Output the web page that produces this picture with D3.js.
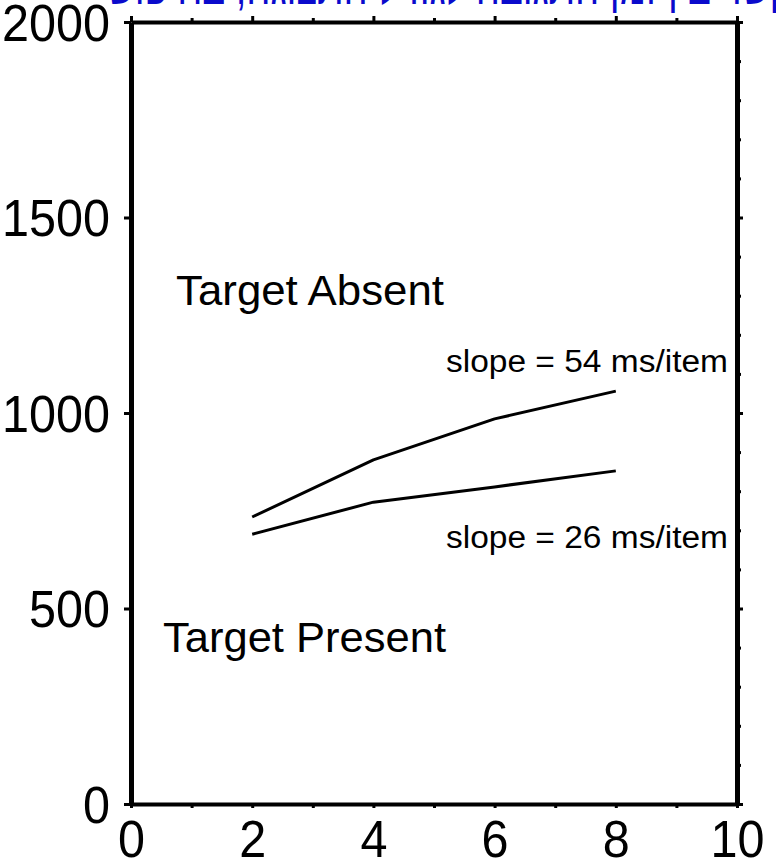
<!DOCTYPE html>
<html>
<head>
<meta charset="utf-8">
<script src="https://cdn.jsdelivr.net/npm/d3@7"></script>
<style>
  html, body { margin: 0; padding: 0; background: #fff; }
  svg { display: block; }
</style>
</head>
<body>
<script>
// ---- data ----
const setSizes = [2, 4, 6, 8];
const absentRT = [734, 880, 985, 1056];
const presentRT = [690, 772, 811, 852];
const xTickLabels = [0, 2, 4, 6, 8, 10];
const yTickLabels = [0, 500, 1000, 1500, 2000];
const seriesNames = ["Target Absent", "Target Present"];
const slopeLabels = ["slope = 54 ms/item", "slope = 26 ms/item"];
const titleText = "קשר בין זמן התגובה לגודל התצוגה, בחיפוש";

// ---- layout ----
const W = 776, H = 865;
const svg = d3.select("body").append("svg").attr("width", W).attr("height", H);
svg.append("rect").attr("width", W).attr("height", H).attr("fill", "#fff");

const x = d3.scaleLinear().domain([0, 10]).range([131, 737]);
const y = d3.scaleLinear().domain([0, 2000]).range([804, 22]);
const FONT = "'Liberation Sans', Arial, Helvetica, sans-serif";
const fmt = d3.format("d");

// title (cut off at top)
svg.append("text")
  .attr("x", 792).attr("y", 4)
  .attr("text-anchor", "end")
  .attr("font-family", FONT)
  .attr("font-size", 50)
  .attr("fill", "#0a0acc")
  .attr("textLength", 685)
  .attr("lengthAdjust", "spacingAndGlyphs")
  .text(titleText);

function styleAxis(g, domainW) {
  g.select(".domain").attr("stroke", "#000").attr("stroke-width", domainW);
  g.selectAll(".tick line").attr("stroke", "#000").attr("stroke-width", 3);
}

// left axis: majors + labels
const leftAx = svg.append("g").attr("transform", `translate(${x(0)},0)`)
  .call(d3.axisLeft(y).tickValues(yTickLabels).tickFormat(fmt).tickSize(7).tickSizeOuter(0).tickPadding(14));
styleAxis(leftAx, 5);
leftAx.selectAll(".tick text")
  .attr("font-family", FONT).attr("font-size", 52).attr("fill", "#000")
  .attr("dy", "0.35em")
  .attr("textLength", d => fmt(d).length * 27)
  .attr("lengthAdjust", "spacingAndGlyphs");

// right axis: minor every 100, major every 500
const rightMinor = d3.range(0, 2001, 100);
const rightAx = svg.append("g").attr("transform", `translate(${x(10)},0)`)
  .call(d3.axisRight(y).tickValues(rightMinor).tickSizeOuter(0).tickFormat(""));
styleAxis(rightAx, 5);
rightAx.selectAll(".tick line").attr("x2", d => d % 500 === 0 ? 6 : 4);

// top axis: every unit, majors on even
const unitTicks = d3.range(0, 11, 1);
const topAx = svg.append("g").attr("transform", `translate(0,${y(2000)})`)
  .call(d3.axisTop(x).tickValues(unitTicks).tickSizeOuter(0).tickFormat(""));
styleAxis(topAx, 4);
topAx.selectAll(".tick line").attr("y2", d => d % 2 === 0 ? -6 : -4);

// bottom axis: ticks every unit
const bottomAx = svg.append("g").attr("transform", `translate(0,${y(0)})`)
  .call(d3.axisBottom(x).tickValues(unitTicks).tickSize(4).tickSizeOuter(0).tickFormat(""));
styleAxis(bottomAx, 4);

// bottom labels
const bottomLab = svg.append("g").attr("transform", `translate(0,${y(0)})`)
  .call(d3.axisBottom(x).tickValues(xTickLabels).tickFormat(fmt).tickSize(0).tickPadding(17));
bottomLab.select(".domain").remove();
bottomLab.selectAll(".tick text")
  .attr("font-family", FONT).attr("font-size", 51).attr("fill", "#000")
  .attr("textLength", d => fmt(d).length * 27)
  .attr("lengthAdjust", "spacingAndGlyphs");

// lines
const line = d3.line().x((d, i) => x(setSizes[i])).y(d => y(d));
[absentRT, presentRT].forEach(s => {
  svg.append("path").datum(s)
    .attr("d", line)
    .attr("fill", "none")
    .attr("stroke", "#000")
    .attr("stroke-width", 3)
    .attr("stroke-linejoin", "round");
});

// annotations
svg.append("text").attr("x", 176).attr("y", 305)
  .attr("font-family", FONT).attr("font-size", 42).attr("fill", "#000")
  .attr("textLength", 268).attr("lengthAdjust", "spacingAndGlyphs")
  .text(seriesNames[0]);
svg.append("text").attr("x", 163).attr("y", 652)
  .attr("font-family", FONT).attr("font-size", 42).attr("fill", "#000")
  .attr("textLength", 283).attr("lengthAdjust", "spacingAndGlyphs")
  .text(seriesNames[1]);
svg.append("text").attr("x", 446).attr("y", 372)
  .attr("font-family", FONT).attr("font-size", 31).attr("fill", "#000")
  .attr("textLength", 282).attr("lengthAdjust", "spacingAndGlyphs")
  .text(slopeLabels[0]);
svg.append("text").attr("x", 446).attr("y", 548)
  .attr("font-family", FONT).attr("font-size", 31).attr("fill", "#000")
  .attr("textLength", 282).attr("lengthAdjust", "spacingAndGlyphs")
  .text(slopeLabels[1]);
</script>
</body>
</html>
